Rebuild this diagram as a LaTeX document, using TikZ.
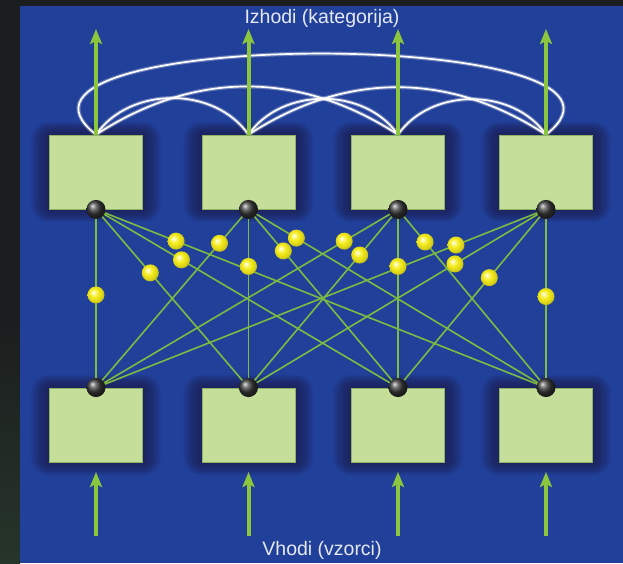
\documentclass[tikz,border=0pt]{standalone}
\usepackage{fontspec}
\setmainfont{Liberation Sans}
\usetikzlibrary{arrows.meta}

\definecolor{darkbg}{HTML}{1B1D1E}
\definecolor{stripgreen}{HTML}{26352A}
\definecolor{panelblue}{HTML}{21409A}
\definecolor{glownavy}{HTML}{1C1C4C}
\definecolor{boxfill}{HTML}{C5DF9B}
\definecolor{boxedge}{HTML}{8DB264}
\definecolor{linkgreen}{HTML}{7DBB42}
\definecolor{arrowgreen}{HTML}{8CC63F}
\definecolor{labeltext}{HTML}{E6E9F2}
\definecolor{wyellow}{HTML}{F4EC1C}

\pgfdeclareradialshading{yellowball}{\pgfpoint{-8bp}{8bp}}{%
  color(0bp)=(white); color(5bp)=(wyellow!45!white); color(13bp)=(wyellow);
  color(24bp)=(wyellow!88!black); color(30bp)=(wyellow!72!black); color(50bp)=(wyellow!72!black)}

\pgfdeclarelayer{back}
\pgfdeclarelayer{mid}
\pgfsetlayers{back,mid,main}

\begin{document}
\begin{tikzpicture}[x=1pt,y=1pt,
  box/.style={draw=boxedge,line width=0.8pt,fill=boxfill,minimum width=93pt,minimum height=74pt,inner sep=0pt},
  glow/.style={fill=glownavy,opacity=0.12},
  kball/.style={circle,inner sep=0pt,minimum size=19pt,ball color=gray!45!black},
  wball/.style={circle,inner sep=0pt,minimum size=17pt,shading=yellowball},
  link/.style={draw=linkgreen,line width=1.6pt},
  io/.style={draw=arrowgreen,line width=4pt,-{Stealth[length=15pt,width=12pt,inset=3pt]}},
  feedback/.style={draw=white,line width=1.7pt,preaction={draw=white,opacity=0.3,line width=4pt}},
  lbl/.style={text=labeltext,font=\fontsize{19.5}{22}\selectfont,inner sep=0pt}]
%\draw[help lines,step=50] (0,0) grid (623,563);
\useasboundingbox (0,0) rectangle (623,563);

% boxes, top row = outputs, bottom row = inputs
\foreach \n/\x in {1/96,2/248.5,3/398,4/546}{
  \node[box] (o\n) at (\x,391) {};
  \node[box] (i\n) at (\x,138) {};
  \node[kball] (ub\n) at (o\n.south) {};
  \node[kball] (lb\n) at (i\n.north) {};
}

\coordinate (otip) at (0,534);
\coordinate (ibase) at (0,27);
\coordinate (itip) at (0,91);

\node[lbl] (outlbl) at (322,545) {Izhodi (kategorija)};
\node[lbl] (inlbl) at (322,13) {Vhodi (vzorci)};

\begin{pgfonlayer}{back}
\fill[darkbg] (0,0) rectangle (623,563);
\shade[top color=darkbg,bottom color=stripgreen] (0,0) rectangle (20,250);
\fill[panelblue] (20,0) rectangle (623,557);
\foreach \b in {o1,o2,o3,o4,i1,i2,i3,i4}
  \foreach \g in {2,4,...,18}
    \fill[glow,rounded corners=\g] ([shift={(-\g,-0.7*\g)}]\b.south west) rectangle ([shift={(\g,0.7*\g)}]\b.north east);
\end{pgfonlayer}

\begin{pgfonlayer}{mid}
\foreach \u in {1,...,4}
  \foreach \l in {1,...,4}
    \draw[link] (ub\u.center) -- (lb\l.center);

\draw[feedback] (o1.north) to[out=55,in=125] (o2.north);
\draw[feedback] (o2.north) to[out=55,in=125] (o3.north);
\draw[feedback] (o3.north) to[out=55,in=125] (o4.north);
\draw[feedback] (o1.north) to[out=33,in=147] (o3.north);
\draw[feedback] (o2.north) to[out=33,in=147] (o4.north);
\draw[feedback] (o1.north) to[out=142,in=38] (o4.north);
\end{pgfonlayer}

% weights on the links
\foreach \u/\l/\t in {1/1/.48,1/2/.356,1/3/.283,1/4/.178,2/1/.19,2/2/.32,2/3/.233,2/4/.161,
                      3/1/.178,3/2/.256,3/3/.32,3/4/.183,4/1/.2,4/2/.306,4/3/.383,4/4/.489}
  \path (ub\u.center) -- (lb\l.center) node[wball,pos=\t] (w\u\l) {};

\foreach \n in {1,...,4}{
  \draw[io] (o\n.north) -- (o\n.north |- otip);
  \draw[io] (i\n.south |- ibase) -- (i\n.south |- itip);
}
\end{tikzpicture}
\end{document}
